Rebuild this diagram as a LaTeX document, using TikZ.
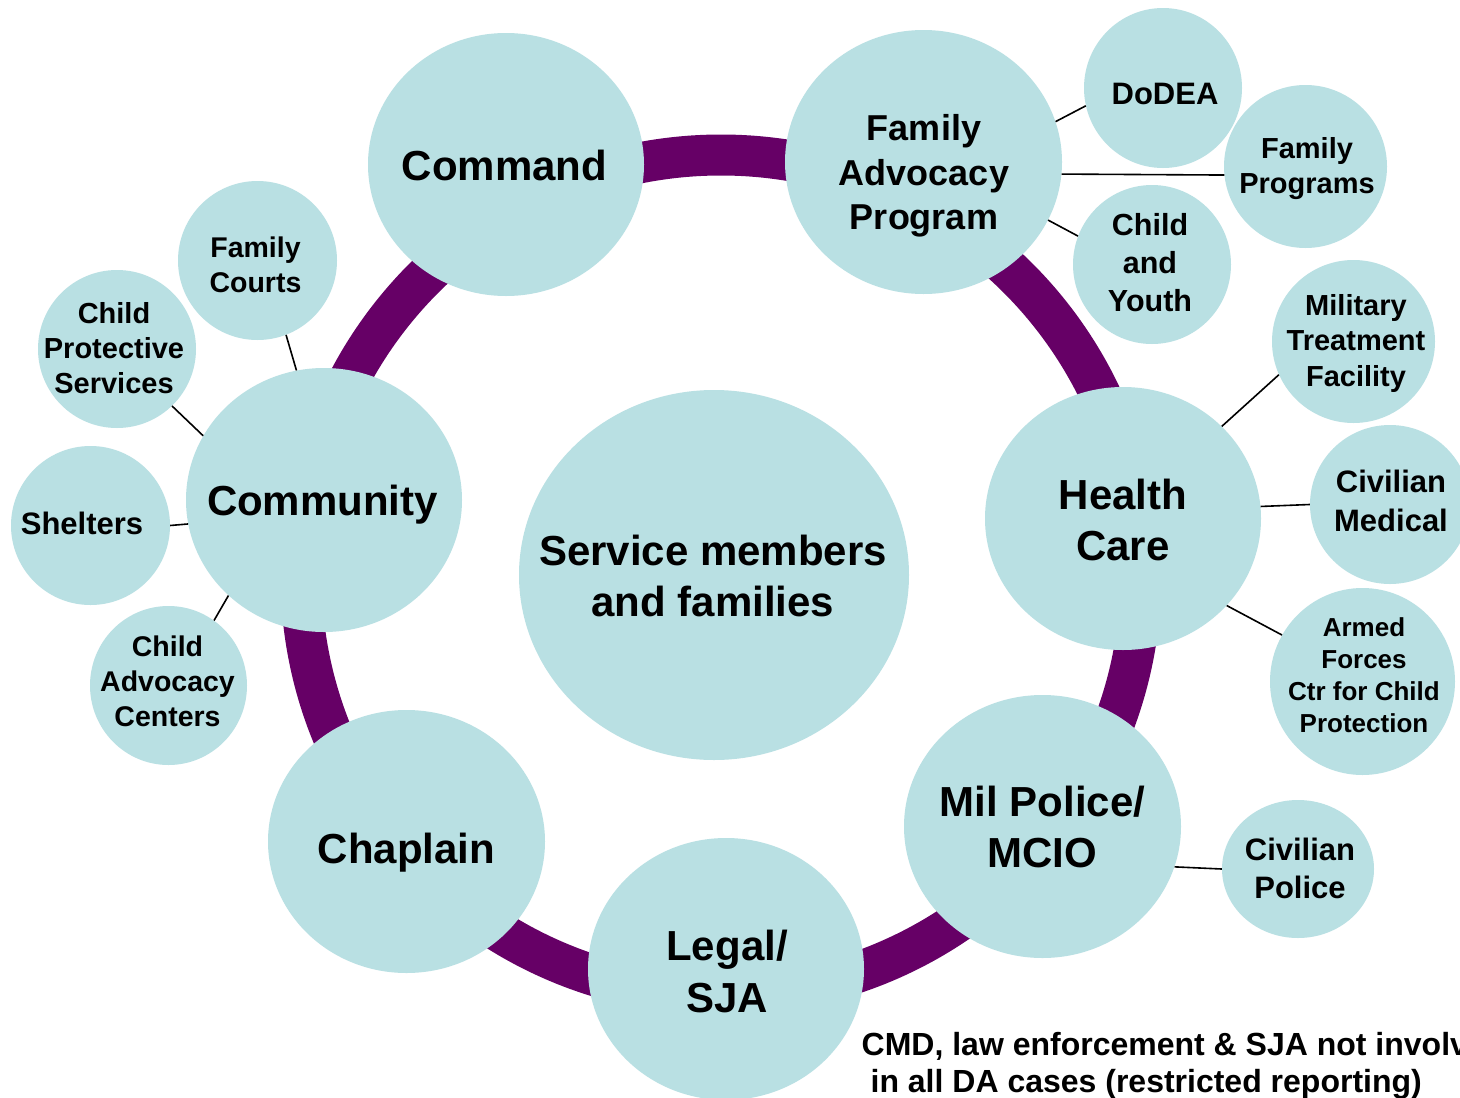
\documentclass[tikz,border=0pt]{standalone}
\usepackage{fontspec}
\setmainfont{Liberation Sans}
\usetikzlibrary{shapes.geometric}
\definecolor{bubfill}{RGB}{185,224,227}
\definecolor{ringcol}{RGB}{102,0,102}
\newcommand{\cs}{\rule[-0.22em]{0pt}{1.156em}}
\newcommand{\fsz}[2]{\fontsize{#1}{#2}\selectfont\bfseries}
\begin{document}
\begin{tikzpicture}[x=1pt,y=-1pt,
  bubble/.style={ellipse, fill=bubfill, draw=none, inner sep=0pt},
  lbl/.style={align=center, inner sep=0pt, text=black},
  link/.style={draw=black, line width=1.6pt}]
\useasboundingbox (0,0) rectangle (1460,1098);
\fill[white] (0,0) rectangle (1460,1098);
\clip (0,0) rectangle (1460,1098);

% ring
\draw[ringcol, line width=41pt] (721,575) circle [radius=420pt];

% big bubbles
\node[bubble, minimum width=276pt, minimum height=263pt] (cmd) at (506,164.5) {};
\node[bubble, minimum width=277pt, minimum height=264pt] (fap) at (923.5,162) {};
\node[bubble, minimum width=276pt, minimum height=264pt] (com) at (324,500) {};
\node[bubble, minimum width=276pt, minimum height=263pt] (hc) at (1123,518.5) {};
\node[bubble, minimum width=277pt, minimum height=263pt] (mp) at (1042.5,826.5) {};
\node[bubble, minimum width=276pt, minimum height=262pt] (leg) at (726,969) {};
\node[bubble, minimum width=277pt, minimum height=263pt] (chap) at (406.5,841.5) {};
\node[bubble, minimum width=390pt, minimum height=370pt] (smf) at (714,575) {};

% small bubbles
\node[bubble, minimum width=158pt, minimum height=160pt] (dod) at (1163,88) {};
\node[bubble, minimum width=163pt, minimum height=163pt] (fp) at (1305.5,166.5) {};
\node[bubble, minimum width=158pt, minimum height=159pt] (cy) at (1152,264.5) {};
\node[bubble, minimum width=163pt, minimum height=163pt] (mtf) at (1353.5,341.5) {};
\node[bubble, minimum width=160pt, minimum height=159pt] (cm) at (1390,504.5) {};
\node[bubble, minimum width=185pt, minimum height=187pt] (af) at (1362.5,681.5) {};
\node[bubble, minimum width=152pt, minimum height=138pt] (cp) at (1298,869) {};
\node[bubble, minimum width=159pt, minimum height=159pt] (fc) at (257.5,260.5) {};
\node[bubble, minimum width=158pt, minimum height=158pt] (cps) at (117,349) {};
\node[bubble, minimum width=159pt, minimum height=159pt] (sh) at (90.5,525.5) {};
\node[bubble, minimum width=157pt, minimum height=159pt] (cac) at (168.5,685.5) {};

% links
\draw[link] (fap.17.2) -- (dod.193.9);
\draw[link] (fap.-5.4) -- (fp.186);
\draw[link] (fap.-25.2) -- (cy.159.6);
\draw[link] (hc.43.4) -- (mtf.204.8);
\draw[link] (hc.5.8) -- (cm.180);
\draw[link] (hc.-40.9) -- (af.150.3);
\draw[link] (mp.-17.9) -- (cp.180);
\draw[link] (com.102.8) -- (fc.-69.7);
\draw[link] (com.152.1) -- (cps.-46.5);
\draw[link] (com.190.4) -- (sh.0);
\draw[link] (com.225.3) -- (cac.55.8);

% labels
\node[lbl, font={\fsz{42}{51}}] (cmd-t) at (504.5,165) {\cs Command};
\node[lbl, font={\fsz{36}{44.5}}] (fap-t) at (924,172.5) {\cs Family\\\cs Advocacy\\\cs Program};
\node[lbl, font={\fsz{42}{51}}] (com-t) at (322.5,500) {\cs Community};
\node[lbl, font={\fsz{42}{51}}] (hc-t) at (1123,519.5) {\cs Health\\\cs Care};
\node[lbl, font={\fsz{42}{51}}] (mp-t) at (1042.5,826.5) {\cs Mil Police/\\\cs MCIO};
\node[lbl, font={\fsz{42}{52}}] (leg-t) at (727,971) {\cs Legal/\\\cs SJA};
\node[lbl, font={\fsz{42}{51}}] (chap-t) at (406.5,848) {\cs Chaplain};
\node[lbl, font={\fsz{42}{51}}] (smf-t) at (713,575.5) {\cs Service members\\\cs and families};

\node[lbl, font={\fsz{31}{38}}] (dod-t) at (1165,93) {\cs DoDEA};
\node[lbl, font={\fsz{29}{35}}] (fp-t) at (1307,165.5) {\cs Family\\\cs Programs};
\node[lbl, font={\fsz{30.5}{38}}] (cy-t) at (1150,263) {\cs Child\\\cs and\\\cs Youth};
\node[lbl, font={\fsz{29}{35.5}}] (mtf-t) at (1356,340.5) {\cs Military\\\cs Treatment\\\cs Facility};
\node[lbl, font={\fsz{31}{39}}] (cm-t) at (1391,500.5) {\cs Civilian\\\cs Medical};
\node[lbl, font={\fsz{26}{32}}] (af-t) at (1364,675) {\cs Armed\\\cs Forces\\\cs Ctr for Child\\\cs Protection};
\node[lbl, font={\fsz{31}{37.5}}] (cp-t) at (1300,868.5) {\cs Civilian\\\cs Police};
\node[lbl, font={\fsz{28.5}{35}}] (fc-t) at (255.5,264.5) {\cs Family\\\cs Courts};
\node[lbl, font={\fsz{29}{35}}] (cps-t) at (114,348) {\cs Child\\\cs Protective\\\cs Services};
\node[lbl, font={\fsz{31}{38}}] (sh-t) at (82,523) {\cs Shelters};
\node[lbl, font={\fsz{28.5}{35}}] (cac-t) at (167.5,681) {\cs Child\\\cs Advocacy\\\cs Centers};

\node[lbl, align=left, anchor=west, font={\fsz{32}{37}}] (note) at (861.5,1062.5)
  {\cs CMD, law enforcement \& SJA not involved\\\cs\hspace*{0.278em}in all DA cases (restricted reporting)};
\end{tikzpicture}
\end{document}
